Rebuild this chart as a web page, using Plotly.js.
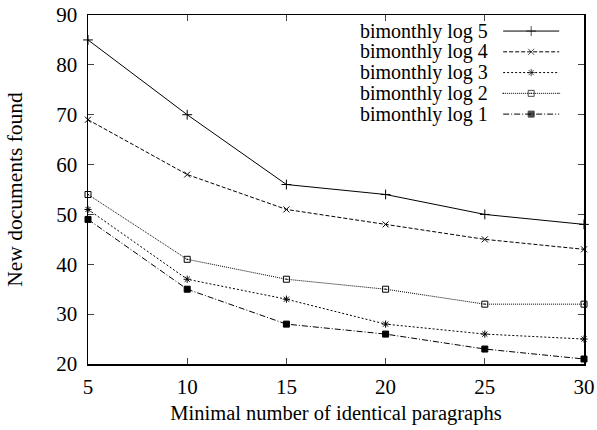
<!DOCTYPE html>
<html><head><meta charset="utf-8">
<script src="https://cdn.plot.ly/plotly-3.0.1.min.js"></script>
<style>html,body{margin:0;padding:0;background:#fff}#c{width:597px;height:430px}</style>
</head><body><div id="c"></div>
<script>
// Data
const paragraphs = [5, 10, 15, 20, 25, 30];
const seriesNames = ["bimonthly log 5", "bimonthly log 4", "bimonthly log 3", "bimonthly log 2", "bimonthly log 1"];
const log5 = [85, 70, 56, 54, 50, 48];
const log4 = [69, 58, 51, 48, 45, 43];
const log3 = [51, 37, 33, 28, 26, 25];
const log2 = [54, 41, 37, 35, 32, 32];
const log1 = [49, 35, 28, 26, 23, 21];
const xTicks = [5, 10, 15, 20, 25, 30];
const yTicks = [20, 30, 40, 50, 60, 70, 80, 90];

// Styles
const styles = [
  {dash: "solid", symbol: "cross-thin", size: 7},
  {dash: "4px,2px", symbol: "x-thin", size: 6},
  {dash: "2px,2px", symbol: "asterisk", size: 6},
  {dash: "1px,1px", symbol: "square-open-dot", size: 6},
  {dash: "6px,2px,1px,2px", symbol: "square", size: 6}
];
const values = [log5, log4, log3, log2, log1];

const FONT = "Liberation Serif, Times New Roman, serif";
const traces = [];
values.forEach((v, i) => {
  const s = styles[i];
  traces.push({
    x: paragraphs, y: v, type: "scatter", mode: "lines+markers",
    name: seriesNames[i], showlegend: false, cliponaxis: false,
    line: {color: "#000", width: 1, dash: s.dash},
    marker: {symbol: s.symbol, size: s.size, color: "#000",
             line: {color: "#000", width: 1}}
  });
});

// Custom legend (sample on the right, as in gnuplot) on an overlay axis spanning [0,1]
const legX0 = 0.837, legX1 = 0.950, legTextX = 0.8105;
const legY0 = 0.954, legDY = 0.0595;
const annotations = [];
seriesNames.forEach((n, i) => {
  const s = styles[i];
  const yy = legY0 - i * legDY;
  traces.push({
    x: [legX0, (legX0 + legX1) / 2, legX1], y: [yy, yy, yy],
    xaxis: "x2", yaxis: "y2", type: "scatter", mode: "lines+markers",
    showlegend: false, hoverinfo: "skip", cliponaxis: false,
    line: {color: "#000", width: 1, dash: s.dash},
    marker: {symbol: s.symbol, size: [0, s.size, 0], color: "#000",
             line: {color: "#000", width: 1}}
  });
  annotations.push({
    xref: "x2", yref: "y2", x: legTextX, y: yy, text: n, showarrow: false,
    xanchor: "right", yanchor: "middle", font: {family: FONT, size: 20, color: "#000"}
  });
});

const layout = {
  width: 597, height: 430,
  margin: {l: 88, r: 13, t: 15, b: 66},
  paper_bgcolor: "#fff", plot_bgcolor: "#fff",
  font: {family: FONT, size: 20, color: "#000"},
  showlegend: false,
  xaxis: {
    range: [5, 30], tickvals: xTicks, ticks: "inside", ticklen: 6,
    showline: true, linewidth: 1.5, linecolor: "#000", mirror: "ticks",
    showgrid: false, zeroline: false, tickfont: {family: FONT, size: 21},
    ticklabelstandoff: 3,
    title: {text: "Minimal number of identical paragraphs", font: {family: FONT, size: 20.5}, standoff: 8}
  },
  yaxis: {
    range: [20, 90], tickvals: yTicks, ticks: "inside", ticklen: 6,
    showline: true, linewidth: 1.5, linecolor: "#000", mirror: "ticks",
    showgrid: false, zeroline: false, tickfont: {family: FONT, size: 21},
    ticklabelstandoff: 5,
    title: {text: "New documents found", font: {family: FONT, size: 21.5}, standoff: 28}
  },
  xaxis2: {overlaying: "x", range: [0, 1], visible: false, fixedrange: true},
  yaxis2: {overlaying: "y", range: [0, 1], visible: false, fixedrange: true},
  annotations: annotations
};

Plotly.newPlot("c", traces, layout, {displayModeBar: false, staticPlot: true});
</script>
</body></html>
